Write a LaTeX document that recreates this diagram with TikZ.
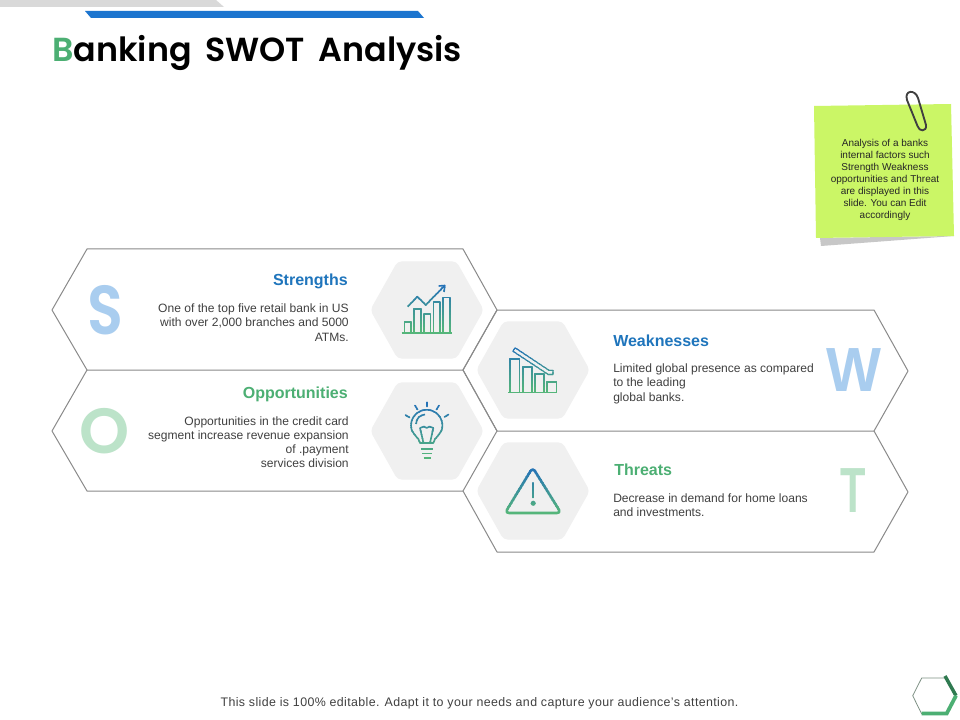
\documentclass[tikz,border=0pt]{standalone}
\usepackage{fontspec}
\setmainfont{Liberation Sans}
\newfontfamily\titlefont[WordSpace=1.7]{Poppins SemiBold}
\usetikzlibrary{calc}
\definecolor{hexline}{HTML}{8A8A8A}
\definecolor{hexfill}{HTML}{F0F0F0}
\definecolor{blueh}{HTML}{1F75BC}
\definecolor{bluebar}{HTML}{1C75CF}
\definecolor{greenh}{HTML}{4CAF73}
\definecolor{greend}{HTML}{2F7A50}
\definecolor{bluel}{HTML}{A9CDEF}
\definecolor{greenl}{HTML}{BCE3C9}
\definecolor{bodyc}{HTML}{404040}
\definecolor{sticky}{HTML}{CBF666}
\definecolor{icong}{HTML}{55B57A}
\definecolor{iconb}{HTML}{2472B8}
\newcommand{\gradstroke}[3]{%
  \foreach \bandi in {0,...,15}{%
    \pgfmathsetmacro{\bandp}{100*\bandi/15}%
    \colorlet{bandc}{icong!\bandp!iconb}%
    \begin{scope}
      \clip (350,{#1+(#2-#1)*\bandi/16-0.1}) rectangle (600,{#1+(#2-#1)*(\bandi+1)/16+0.1});
      \begin{scope}[draw=bandc,fill=bandc]
        #3
      \end{scope}
    \end{scope}
  }%
}
\tikzset{
  x=0.75pt,y=-0.75pt,
  hexout/.style={draw=hexline,line width=0.75pt,line join=round},
  hexgray/.style={fill=hexfill,draw=hexfill,line width=1pt,line join=round,rounded corners=3pt},
  headb/.style={font=\fontsize{12}{14}\selectfont\bfseries,text=blueh,inner sep=0pt},
  headg/.style={font=\fontsize{12}{14}\selectfont\bfseries,text=greenh,inner sep=0pt},
  bodyr/.style={font=\fontsize{9.05}{10.7}\selectfont,text=bodyc,align=right,inner sep=0pt,anchor=north east},
  bodyl/.style={font=\fontsize{9.05}{10.7}\selectfont,text=bodyc,align=left,inner sep=0pt,anchor=north west},
  bigletter/.style={font=\fontsize{52}{52}\selectfont\bfseries,inner sep=0pt},
  bigletterm/.style={font=\titlefont\fontsize{52}{52}\selectfont,inner sep=0pt},
  icon/.style={line width=1.2pt,line join=round},
}
\begin{document}
\begin{tikzpicture}
\useasboundingbox (0,0) rectangle (960,720);
\fill[white] (0,0) rectangle (960,720);
% top bars
\fill[black!15] (0,0) -- (216,0) -- (224,7) -- (0,7) -- cycle;
\fill[bluebar] (85,11) -- (418,11) -- (424,18) -- (91,18) -- cycle;
% title
\node[anchor=base west,inner sep=0pt,font=\titlefont\fontsize{25}{30}\selectfont] (title) at (52,62) {\textcolor{greenh}{B}anking SWOT Analysis};
% outlines
\draw[hexout] (87,249) -- (463,249) -- (497,310) -- (463,370) -- (87,370) -- (52,310) -- cycle;
\draw[hexout] (87,370) -- (52,431) -- (87,491) -- (463,491) -- (497,431) -- (463,370);
\draw[hexout] (497,310) -- (874,310) -- (908,371) -- (874,431) -- (497,431) -- (463,370) -- cycle;
\draw[hexout] (874,431) -- (908,492) -- (874,552) -- (497,552) -- (463,491);
% grey hexagons
\fill[hexgray] (371,310) -- (398,262) -- (456,262) -- (483,310) -- (456,358) -- (398,358) -- cycle;
\fill[hexgray] (477,370) -- (504,322) -- (562,322) -- (589,370) -- (562,418) -- (504,418) -- cycle;
\fill[hexgray] (371,431) -- (398,383) -- (456,383) -- (483,431) -- (456,479) -- (398,479) -- cycle;
\fill[hexgray] (477,491) -- (504,443) -- (562,443) -- (589,491) -- (562,539) -- (504,539) -- cycle;
% big letters
\node[bigletterm,text=bluel,xscale=0.85] (letS) at (105.5,310) {S};
\node[bigletterm,text=greenl,scale=0.92] (letO) at (105,431) {O};
\node[bigletter,text=bluel,xscale=0.84,yscale=0.9] (letW) at (853.5,370.5) {W};
\node[bigletter,text=greenl,xscale=0.6,yscale=0.92] (letT) at (853.5,491) {T};
% texts
\node[headb,anchor=base east] (sH) at (348,286) {Strengths};
\node[bodyr] (sB) at (349,303.5) {One of the top five retail bank in US\\with over 2,000 branches and 5000\\ATMs.};
\node[headg,anchor=base east] (oH) at (348,398) {Opportunities};
\node[bodyr] (oB) at (349,416) {Opportunities in the credit card\\segment increase revenue expansion\\of .payment\\services division};
\node[headb,anchor=base west] (wH) at (613,346.5) {Weaknesses};
\node[bodyl] (wB) at (613,363.5) {Limited global presence as compared\\to the leading\\global banks.};
\node[headg,anchor=base west] (tH) at (614,475.5) {Threats};
\node[bodyl] (tB) at (613,493) {Decrease in demand for home loans\\and investments.};
% icon 1: rising bars
\gradstroke{284}{334}{
  \draw[icon] (401.7,333) -- (451.7,333);
  \draw[icon] (404.3,333) |- (411,321.7) -- (411,333);
  \draw[icon] (414,333) |- (420.7,309) -- (420.7,333);
  \draw[icon] (423.7,333) |- (430.3,314) -- (430.3,333);
  \draw[icon] (433.3,333) |- (440,302.3) -- (440,333);
  \draw[icon] (442.7,333) |- (449.7,297.7) -- (449.7,333);
  \draw[icon] (407.7,306.7) -- (417.3,296.7) -- (425.7,305) -- (444.3,286);
  \draw[icon] (438.7,286) -- (444.8,285.5) -- (444,292);
}
% icon 2: falling bars
\gradstroke{346}{394}{
  \draw[icon] (508.3,392.3) -- (557.3,392.3);
  \draw[icon] (510,392.3) |- (519.3,358.7) -- (519.3,392.3);
  \draw[icon] (522.7,392.3) |- (531.7,366.7) -- (531.7,392.3);
  \draw[icon] (534.7,392.3) |- (544,374) -- (544,392.3);
  \draw[icon] (547,392.3) |- (556.3,381.7) -- (556.3,392.3);
  \draw[line width=0.8pt,line join=round] (515.1,347.8) -- (549,370.3) -- (553,370.3) -- (553,374.5) -- (548,374.5) -- (547,373.7) -- (512.9,351.2) -- cycle;
}
% icon 3: bulb
\gradstroke{402}{460}{
  \draw[icon] (420,443) .. controls (419.5,437) and (411,435) .. (411,425.5) arc[start angle=180,end angle=360,radius=15.7] .. controls (442.4,435) and (434,437) .. (433.3,443) -- cycle;
  \draw[icon] (416,424) .. controls (416.5,418) and (420,415) .. (425,414.5);
  \draw[icon] (420,428) -- (424,426.5) -- (426.7,428) -- (429.5,426.5) -- (433.3,428) -- (430,443);
  \draw[icon] (420,428) -- (423.5,443);
  \draw[icon,line cap=round] (426.7,402.3) -- (426.7,406.5);
  \draw[icon,line cap=round] (415,405.5) -- (417.5,409.5);
  \draw[icon,line cap=round] (439,405.5) -- (436.5,409.5);
  \draw[icon,line cap=round] (405.5,415) -- (409.5,417.5);
  \draw[icon,line cap=round] (448.5,414.5) -- (444.5,417);
  \draw[icon] (421,449) -- (432.7,449);
  \draw[icon] (422,453.3) -- (431.7,453.3);
  \draw[icon] (423.5,457.7) -- (430.5,457.7);
}
% icon 4: warning triangle
\gradstroke{467}{516}{
  \draw[line width=1.9pt,line join=round,rounded corners=3pt] (532.7,467.5) -- (561,513) -- (505,513) -- cycle;
  \draw[line width=1.4pt,line cap=round] (532.7,483) -- (532.7,497.5);
  \fill (533.2,503.3) circle (1.9pt);
}
% sticky note
\fill[black!22] (820,238) -- (954,236) -- (821,246) -- cycle;
\fill[sticky] (814,106) -- (951,104) -- (954,236) -- (816,238) -- cycle;
\node[font=\fontsize{7.5}{9}\selectfont,text=black!85,align=center,inner sep=0pt,anchor=center] (note) at (885,180) {Analysis of a banks\\internal factors such\\Strength Weakness\\opportunities and Threat\\are displayed in this\\slide. You can Edit\\accordingly};
% paper clip
\draw[black!75,line width=1.4pt,line cap=round,line join=round] (907,100) -- (917.5,126) .. controls (919,132) and (927,132) .. (926,125) -- (918,98) .. controls (915,89) and (904,90) .. (907,100);
% footer
\node[font=\fontsize{9.3}{11}\selectfont\addfontfeature{LetterSpace=3.1},text=bodyc,inner sep=0pt] (foot) at (479.5,703.5) {This slide is 100\% editable. Adapt it to your needs and capture your audience's attention.};
% corner hexagon
\draw[hexline!80!greenh,line width=0.6pt] (921.7,714) -- (912.7,695.7) -- (921.7,678) -- (945,678);
\draw[greend,line width=2.6pt] (945,676) -- (956,695.7);
\draw[greenh,line width=2.8pt] (956,695.7) -- (946.7,713.5) -- (921.7,713.5);
\end{tikzpicture}
\end{document}
